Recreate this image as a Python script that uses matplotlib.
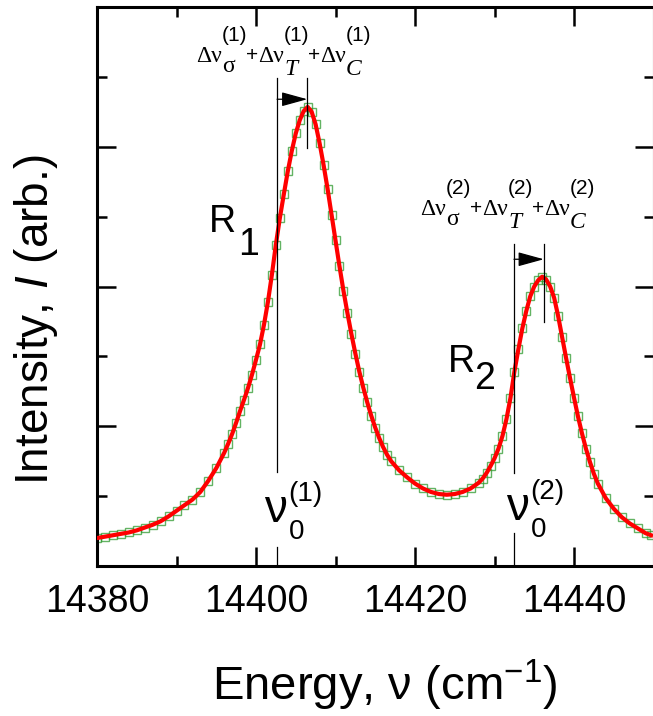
import matplotlib
matplotlib.use('Agg')
import matplotlib.pyplot as plt

plt.rcParams['font.family'] = ['Liberation Sans', 'DejaVu Sans']
plt.rcParams['mathtext.fontset'] = 'custom'
plt.rcParams['mathtext.rm'] = 'Liberation Sans'
plt.rcParams['mathtext.it'] = 'Liberation Sans:italic'
plt.rcParams['mathtext.bf'] = 'Liberation Sans:bold'

# energy (cm^-1) and intensity (arb.)
energy = [14380, 14381, 14382, 14383, 14384, 14385, 14386, 14387, 14388, 14389,
          14390, 14391, 14392, 14393, 14394, 14395, 14396,
          14396.5, 14397, 14397.5, 14398, 14398.5, 14399, 14399.5, 14400,
          14400.5, 14401, 14401.5, 14402, 14402.5, 14403, 14403.5, 14404,
          14404.5, 14405, 14405.5, 14406, 14406.5, 14407, 14407.5, 14408,
          14408.5, 14409, 14409.5, 14410, 14410.5, 14411, 14411.5, 14412,
          14412.5, 14413, 14413.5, 14414, 14414.5, 14415, 14415.5, 14416,
          14416.5, 14417,
          14418, 14419, 14420, 14421, 14422, 14423, 14424, 14425, 14426,
          14427, 14428,
          14428.5, 14429, 14429.5, 14430, 14430.5, 14431, 14431.5, 14432,
          14432.5, 14433, 14433.5, 14434, 14434.5, 14435, 14435.5, 14436,
          14436.5, 14437, 14437.5, 14438, 14438.5, 14439, 14439.5, 14440,
          14440.5, 14441, 14441.5, 14442, 14442.5, 14443,
          14444, 14445, 14446, 14447, 14448, 14449, 14449.7]
intensity = [0.40, 0.42, 0.44, 0.46, 0.48, 0.51, 0.55, 0.59, 0.64, 0.71,
             0.79, 0.87, 0.95, 1.06, 1.22, 1.40, 1.62,
             1.75, 1.89, 2.05, 2.22, 2.38, 2.55, 2.74, 2.95,
             3.17, 3.45, 3.78, 4.17, 4.60, 4.98, 5.32, 5.65,
             5.94, 6.19, 6.38, 6.51, 6.57, 6.50, 6.32, 6.05,
             5.74, 5.40, 5.03, 4.66, 4.29, 3.94, 3.62, 3.32,
             3.04, 2.78, 2.55, 2.34, 2.15, 1.98, 1.83, 1.70,
             1.59, 1.50,
             1.37, 1.27, 1.18, 1.11, 1.06, 1.03, 1.02, 1.03, 1.06,
             1.11, 1.19,
             1.25, 1.33, 1.43, 1.54, 1.68, 1.86, 2.10, 2.40,
             2.78, 3.10, 3.40, 3.65, 3.86, 4.00, 4.09, 4.14,
             4.10, 4.00, 3.84, 3.58, 3.28, 2.98, 2.69, 2.41,
             2.14, 1.90, 1.68, 1.49, 1.32, 1.18,
             0.97, 0.82, 0.70, 0.61, 0.54, 0.47, 0.44]

nu0 = [14402.65, 14432.45]       # unshifted line positions
peaks = [14406.45, 14436.2]      # observed maxima
xticks = [14380, 14400, 14420, 14440]

W, H = 653, 716
fig = plt.figure(figsize=(W / 100, H / 100), dpi=100)
ax = fig.add_axes([97 / W, 150 / H, 556.5 / W, 559 / H])


def px(x, y, s, **kw):
    # place text by pixel position (from top-left)
    fig.text(x / W, 1 - y / H, s, ha='left', va='baseline', **kw)


ax.plot(energy, intensity, linestyle='none', marker='s', ms=6,
        mfc='none', mec='#2f9a2f', mew=1.0, alpha=0.75, zorder=2)
ax.plot(energy, intensity, color='#ff0000', lw=3.0, zorder=3)

# vertical guide lines
ax.plot([nu0[0], nu0[0]], [1.345, 6.98], color='black', lw=0.9, zorder=4)
ax.plot([nu0[0], nu0[0]], [0, 0.27], color='black', lw=0.9, zorder=4)
ax.plot([peaks[0], peaks[0]], [5.98, 6.98], color='black', lw=0.9, zorder=4)
ax.plot([nu0[1], nu0[1]], [1.33, 4.61], color='black', lw=0.9, zorder=4)
ax.plot([nu0[1], nu0[1]], [0, 0.47], color='black', lw=0.9, zorder=4)
ax.plot([peaks[1], peaks[1]], [3.49, 4.61], color='black', lw=0.9, zorder=4)

arrow = dict(arrowstyle='-|>,head_length=0.8,head_width=0.22', color='black',
             lw=0.9, mutation_scale=20, shrinkA=0, shrinkB=0)
ax.annotate('', xy=(peaks[0], 6.68), xytext=(nu0[0], 6.68), arrowprops=arrow)
ax.annotate('', xy=(peaks[1], 4.39), xytext=(nu0[1], 4.39), arrowprops=arrow)

# shift annotations, built piece by piece
serif = dict(family='Liberation Serif', fontsize=17)
serif_it = dict(family='Liberation Serif', style='italic', fontsize=17)
sans = dict(family='Liberation Sans', fontsize=15)
for (x0, y0, n) in [(196, 62, '1'), (420, 215, '2')]:
    for k, sub in enumerate(['σ', 'T', 'C']):
        dx = x0 + 62 * k
        px(dx, y0, 'Δν', **serif)
        if sub == 'σ':
            px(dx + 26, y0 + 10, sub, **serif)
        else:
            px(dx + 26, y0 + 13, sub, **serif_it)
        px(dx + 26, y0 - 21, '(' + n + ')', **sans)
        if k < 2:
            px(dx + 50, y0 - 1, '+', **sans)

# line labels
px(209, 232, 'R', fontsize=27)
px(238, 255, '1', fontsize=27)
px(448, 372, 'R', fontsize=27)
px(474, 389, '2', fontsize=27)
for (x0, y0, n) in [(264, 522, '1'), (506, 520, '2')]:
    px(x0, y0, 'ν', fontsize=33)
    px(x0 + 25, y0 + 17, '0', fontsize=20)
    px(x0 + 24, y0 - 21, '(' + n + ')', fontsize=20)

ax.set_xlim(14380, 14449.7)
ax.set_ylim(0, 8)
ax.set_xticks(xticks)
ax.set_xticks([14390, 14410, 14430, 14450], minor=True)
ax.set_yticks([2, 4, 6])
ax.set_yticks([1, 3, 5, 7], minor=True)
ax.set_yticklabels([])
ax.tick_params(which='both', direction='in', top=True, right=True, width=1.8,
               labelsize=27, pad=13)
ax.tick_params(which='major', length=13.5)
ax.tick_params(which='minor', length=7)
for s in ax.spines.values():
    s.set_linewidth(2.2)

fig.text(385 / W, 1 - 700 / H, r'Energy, ν (cm$^{-1}$)', fontsize=34,
         ha='center', va='baseline')
fig.text(48 / W, 1 - 320 / H, r'Intensity, $I$ (arb.)', fontsize=33,
         rotation=90, rotation_mode='anchor', ha='center', va='baseline')

fig.savefig('out.png', dpi=100)
